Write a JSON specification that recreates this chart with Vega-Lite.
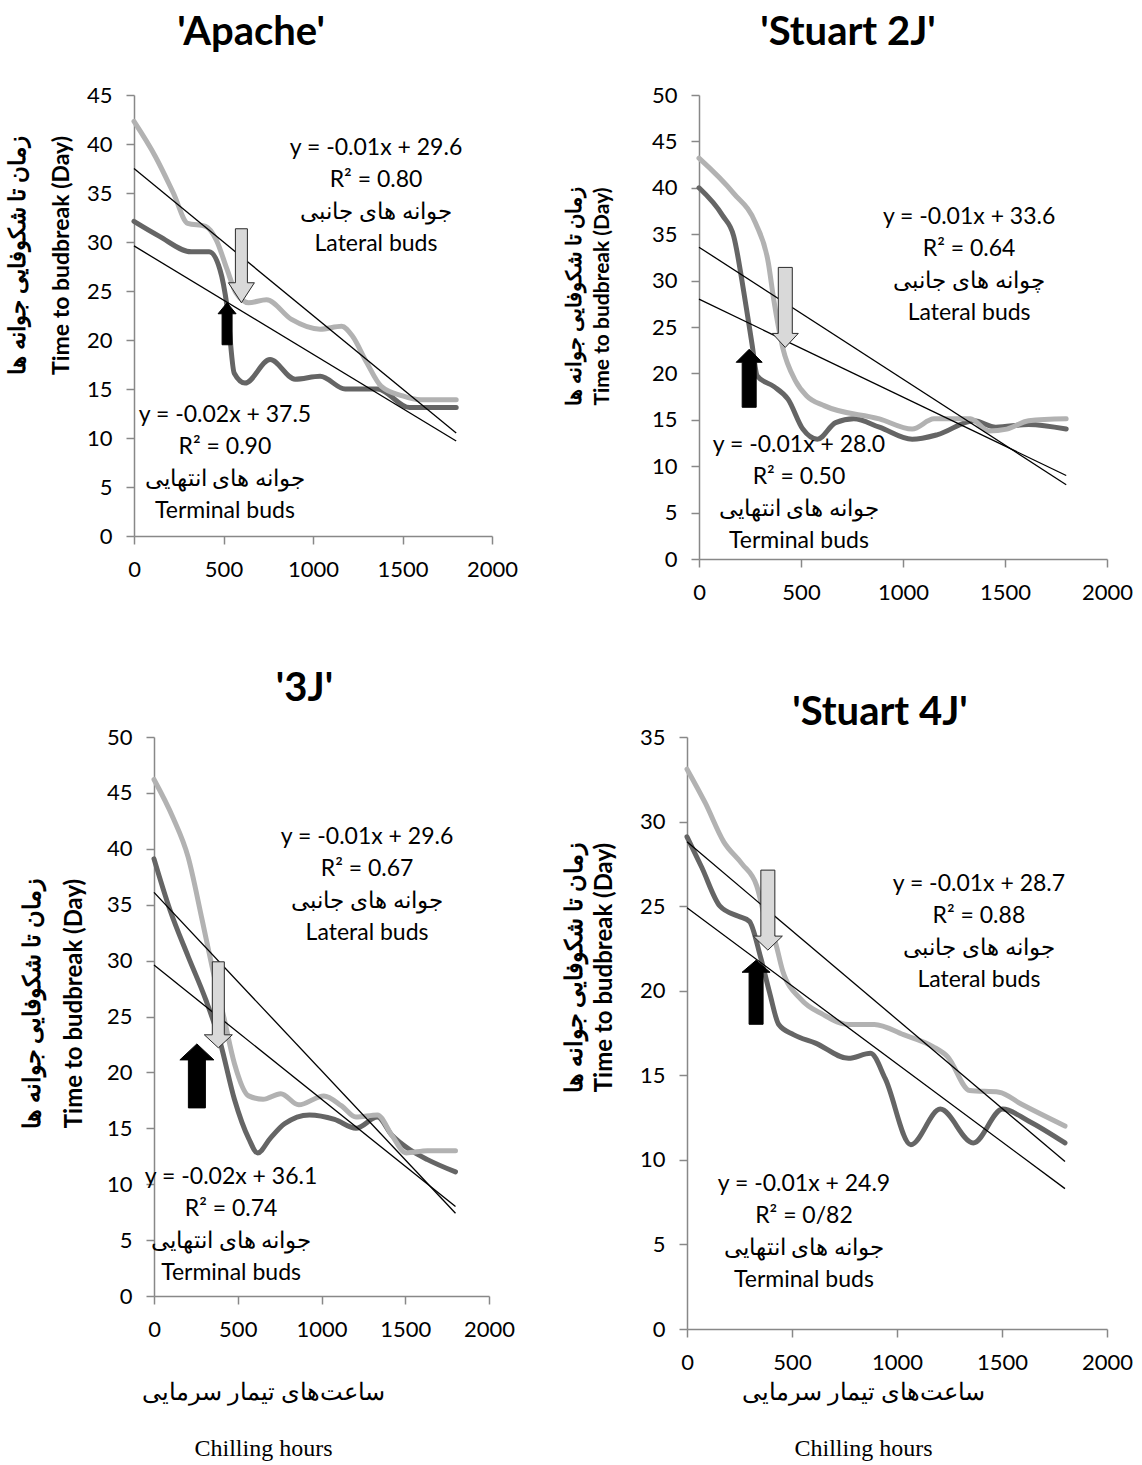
{
  "$schema": "https://vega.github.io/schema/vega-lite/v6.json",
  "padding": {"left": 6, "top": 13, "right": 10, "bottom": 10},
  "background": "white",
  "config": {
    "view": {"stroke": null},
    "font": "Lato",
    "axis": {"grid": false, "domainColor": "#888888", "domainWidth": 1.5, "tickColor": "#888888", "tickWidth": 1.5, "tickSize": 8, "labelFont": "Lato", "labelFontSize": 22, "labelColor": "#000000", "labelPadding": 14, "labelOverlap": false, "labelFlush": false, "titleFont": "Lato", "titleFontWeight": "bold", "titleColor": "#000000", "titleFontSize": 20, "titleAlign": "center"},
    "axisX": {"labelPadding": 15, "format": "d"},
    "title": {"font": "Lato", "fontSize": 40, "fontWeight": "bold", "color": "#000000", "anchor": "middle", "frame": "group", "baseline": "alphabetic"}
  },
  "datasets": {
    "curves": [
      {"panel": "A", "bud": "Terminal", "x": 0, "y": 32.1},
      {"panel": "A", "bud": "Terminal", "x": 140, "y": 30.6},
      {"panel": "A", "bud": "Terminal", "x": 320, "y": 29.0},
      {"panel": "A", "bud": "Terminal", "x": 420, "y": 29.0},
      {"panel": "A", "bud": "Terminal", "x": 480, "y": 27.2},
      {"panel": "A", "bud": "Terminal", "x": 520, "y": 23.4},
      {"panel": "A", "bud": "Terminal", "x": 560, "y": 16.6},
      {"panel": "A", "bud": "Terminal", "x": 620, "y": 15.6},
      {"panel": "A", "bud": "Terminal", "x": 760, "y": 18.0},
      {"panel": "A", "bud": "Terminal", "x": 900, "y": 16.0},
      {"panel": "A", "bud": "Terminal", "x": 1040, "y": 16.3},
      {"panel": "A", "bud": "Terminal", "x": 1180, "y": 15.0},
      {"panel": "A", "bud": "Terminal", "x": 1360, "y": 15.0},
      {"panel": "A", "bud": "Terminal", "x": 1540, "y": 13.1},
      {"panel": "A", "bud": "Terminal", "x": 1800, "y": 13.1},
      {"panel": "A", "bud": "Lateral", "x": 0, "y": 42.3},
      {"panel": "A", "bud": "Lateral", "x": 120, "y": 38.7},
      {"panel": "A", "bud": "Lateral", "x": 220, "y": 35.0},
      {"panel": "A", "bud": "Lateral", "x": 300, "y": 31.9},
      {"panel": "A", "bud": "Lateral", "x": 400, "y": 31.6},
      {"panel": "A", "bud": "Lateral", "x": 460, "y": 30.2},
      {"panel": "A", "bud": "Lateral", "x": 520, "y": 27.2},
      {"panel": "A", "bud": "Lateral", "x": 570, "y": 24.8},
      {"panel": "A", "bud": "Lateral", "x": 640, "y": 23.8},
      {"panel": "A", "bud": "Lateral", "x": 740, "y": 24.1},
      {"panel": "A", "bud": "Lateral", "x": 880, "y": 22.1},
      {"panel": "A", "bud": "Lateral", "x": 1040, "y": 21.1},
      {"panel": "A", "bud": "Lateral", "x": 1160, "y": 21.4},
      {"panel": "A", "bud": "Lateral", "x": 1220, "y": 20.4},
      {"panel": "A", "bud": "Lateral", "x": 1300, "y": 17.7},
      {"panel": "A", "bud": "Lateral", "x": 1380, "y": 15.3},
      {"panel": "A", "bud": "Lateral", "x": 1500, "y": 14.3},
      {"panel": "A", "bud": "Lateral", "x": 1600, "y": 13.9},
      {"panel": "A", "bud": "Lateral", "x": 1800, "y": 13.9},
      {"panel": "B", "bud": "Terminal", "x": 0, "y": 40.0},
      {"panel": "B", "bud": "Terminal", "x": 116, "y": 37.0},
      {"panel": "B", "bud": "Terminal", "x": 170, "y": 34.8},
      {"panel": "B", "bud": "Terminal", "x": 223, "y": 28.3},
      {"panel": "B", "bud": "Terminal", "x": 259, "y": 23.3},
      {"panel": "B", "bud": "Terminal", "x": 286, "y": 19.7},
      {"panel": "B", "bud": "Terminal", "x": 366, "y": 18.6},
      {"panel": "B", "bud": "Terminal", "x": 437, "y": 17.2},
      {"panel": "B", "bud": "Terminal", "x": 509, "y": 14.0},
      {"panel": "B", "bud": "Terminal", "x": 580, "y": 12.9},
      {"panel": "B", "bud": "Terminal", "x": 670, "y": 14.7},
      {"panel": "B", "bud": "Terminal", "x": 759, "y": 15.1},
      {"panel": "B", "bud": "Terminal", "x": 884, "y": 14.2},
      {"panel": "B", "bud": "Terminal", "x": 1045, "y": 12.9},
      {"panel": "B", "bud": "Terminal", "x": 1170, "y": 13.4},
      {"panel": "B", "bud": "Terminal", "x": 1348, "y": 14.9},
      {"panel": "B", "bud": "Terminal", "x": 1455, "y": 14.2},
      {"panel": "B", "bud": "Terminal", "x": 1616, "y": 14.5},
      {"panel": "B", "bud": "Terminal", "x": 1800, "y": 14.0},
      {"panel": "B", "bud": "Lateral", "x": 0, "y": 43.2},
      {"panel": "B", "bud": "Lateral", "x": 170, "y": 39.4},
      {"panel": "B", "bud": "Lateral", "x": 277, "y": 36.2},
      {"panel": "B", "bud": "Lateral", "x": 340, "y": 31.9},
      {"panel": "B", "bud": "Lateral", "x": 366, "y": 28.0},
      {"panel": "B", "bud": "Lateral", "x": 410, "y": 22.8},
      {"panel": "B", "bud": "Lateral", "x": 473, "y": 19.2},
      {"panel": "B", "bud": "Lateral", "x": 527, "y": 17.6},
      {"panel": "B", "bud": "Lateral", "x": 616, "y": 16.5},
      {"panel": "B", "bud": "Lateral", "x": 884, "y": 15.1},
      {"panel": "B", "bud": "Lateral", "x": 1045, "y": 14.0},
      {"panel": "B", "bud": "Lateral", "x": 1152, "y": 15.1},
      {"panel": "B", "bud": "Lateral", "x": 1330, "y": 15.1},
      {"panel": "B", "bud": "Lateral", "x": 1420, "y": 13.8},
      {"panel": "B", "bud": "Lateral", "x": 1509, "y": 14.0},
      {"panel": "B", "bud": "Lateral", "x": 1616, "y": 14.9},
      {"panel": "B", "bud": "Lateral", "x": 1800, "y": 15.1},
      {"panel": "C", "bud": "Terminal", "x": 0, "y": 39.1},
      {"panel": "C", "bud": "Terminal", "x": 96, "y": 34.5},
      {"panel": "C", "bud": "Terminal", "x": 203, "y": 30.4},
      {"panel": "C", "bud": "Terminal", "x": 309, "y": 26.5},
      {"panel": "C", "bud": "Terminal", "x": 395, "y": 22.7},
      {"panel": "C", "bud": "Terminal", "x": 480, "y": 17.6},
      {"panel": "C", "bud": "Terminal", "x": 565, "y": 14.1},
      {"panel": "C", "bud": "Terminal", "x": 619, "y": 12.8},
      {"panel": "C", "bud": "Terminal", "x": 694, "y": 14.1},
      {"panel": "C", "bud": "Terminal", "x": 779, "y": 15.4},
      {"panel": "C", "bud": "Terminal", "x": 928, "y": 16.2},
      {"panel": "C", "bud": "Terminal", "x": 1078, "y": 15.8},
      {"panel": "C", "bud": "Terminal", "x": 1206, "y": 15.0},
      {"panel": "C", "bud": "Terminal", "x": 1334, "y": 16.0},
      {"panel": "C", "bud": "Terminal", "x": 1419, "y": 14.4},
      {"panel": "C", "bud": "Terminal", "x": 1526, "y": 13.1},
      {"panel": "C", "bud": "Terminal", "x": 1633, "y": 12.2},
      {"panel": "C", "bud": "Terminal", "x": 1800, "y": 11.1},
      {"panel": "C", "bud": "Lateral", "x": 0, "y": 46.2},
      {"panel": "C", "bud": "Lateral", "x": 113, "y": 42.8},
      {"panel": "C", "bud": "Lateral", "x": 203, "y": 39.3},
      {"panel": "C", "bud": "Lateral", "x": 288, "y": 33.6},
      {"panel": "C", "bud": "Lateral", "x": 352, "y": 29.1},
      {"panel": "C", "bud": "Lateral", "x": 416, "y": 25.0},
      {"panel": "C", "bud": "Lateral", "x": 480, "y": 20.8},
      {"panel": "C", "bud": "Lateral", "x": 565, "y": 17.9},
      {"panel": "C", "bud": "Lateral", "x": 651, "y": 17.6},
      {"panel": "C", "bud": "Lateral", "x": 757, "y": 18.1},
      {"panel": "C", "bud": "Lateral", "x": 864, "y": 17.1},
      {"panel": "C", "bud": "Lateral", "x": 1014, "y": 17.9},
      {"panel": "C", "bud": "Lateral", "x": 1120, "y": 17.0},
      {"panel": "C", "bud": "Lateral", "x": 1206, "y": 16.0},
      {"panel": "C", "bud": "Lateral", "x": 1334, "y": 16.2},
      {"panel": "C", "bud": "Lateral", "x": 1419, "y": 14.4},
      {"panel": "C", "bud": "Lateral", "x": 1505, "y": 12.8},
      {"panel": "C", "bud": "Lateral", "x": 1633, "y": 13.0},
      {"panel": "C", "bud": "Lateral", "x": 1800, "y": 13.0},
      {"panel": "D", "bud": "Terminal", "x": 0, "y": 29.1},
      {"panel": "D", "bud": "Terminal", "x": 70, "y": 27.3},
      {"panel": "D", "bud": "Terminal", "x": 157, "y": 25.0},
      {"panel": "D", "bud": "Terminal", "x": 245, "y": 24.4},
      {"panel": "D", "bud": "Terminal", "x": 297, "y": 24.1},
      {"panel": "D", "bud": "Terminal", "x": 350, "y": 22.0},
      {"panel": "D", "bud": "Terminal", "x": 393, "y": 19.9},
      {"panel": "D", "bud": "Terminal", "x": 437, "y": 18.0},
      {"panel": "D", "bud": "Terminal", "x": 507, "y": 17.4},
      {"panel": "D", "bud": "Terminal", "x": 612, "y": 16.9},
      {"panel": "D", "bud": "Terminal", "x": 769, "y": 16.0},
      {"panel": "D", "bud": "Terminal", "x": 874, "y": 16.3},
      {"panel": "D", "bud": "Terminal", "x": 944, "y": 14.8},
      {"panel": "D", "bud": "Terminal", "x": 1066, "y": 10.9},
      {"panel": "D", "bud": "Terminal", "x": 1206, "y": 13.0},
      {"panel": "D", "bud": "Terminal", "x": 1363, "y": 11.0},
      {"panel": "D", "bud": "Terminal", "x": 1503, "y": 13.0},
      {"panel": "D", "bud": "Terminal", "x": 1626, "y": 12.3},
      {"panel": "D", "bud": "Terminal", "x": 1800, "y": 11.0},
      {"panel": "D", "bud": "Lateral", "x": 0, "y": 33.1},
      {"panel": "D", "bud": "Lateral", "x": 87, "y": 31.1},
      {"panel": "D", "bud": "Lateral", "x": 175, "y": 28.8},
      {"panel": "D", "bud": "Lateral", "x": 262, "y": 27.5},
      {"panel": "D", "bud": "Lateral", "x": 332, "y": 26.2},
      {"panel": "D", "bud": "Lateral", "x": 376, "y": 24.1},
      {"panel": "D", "bud": "Lateral", "x": 420, "y": 22.9},
      {"panel": "D", "bud": "Lateral", "x": 455, "y": 21.2},
      {"panel": "D", "bud": "Lateral", "x": 542, "y": 19.5},
      {"panel": "D", "bud": "Lateral", "x": 647, "y": 18.6},
      {"panel": "D", "bud": "Lateral", "x": 769, "y": 18.0},
      {"panel": "D", "bud": "Lateral", "x": 892, "y": 18.0},
      {"panel": "D", "bud": "Lateral", "x": 1031, "y": 17.4},
      {"panel": "D", "bud": "Lateral", "x": 1171, "y": 16.7},
      {"panel": "D", "bud": "Lateral", "x": 1241, "y": 16.1},
      {"panel": "D", "bud": "Lateral", "x": 1346, "y": 14.1},
      {"panel": "D", "bud": "Lateral", "x": 1486, "y": 14.0},
      {"panel": "D", "bud": "Lateral", "x": 1591, "y": 13.3},
      {"panel": "D", "bud": "Lateral", "x": 1800, "y": 12.0}
    ],
    "trends": [
      {"panel": "A", "line": "L1", "x": 0, "y": 37.5}, {"panel": "A", "line": "L1", "x": 1800, "y": 10.5},
      {"panel": "A", "line": "L2", "x": 0, "y": 29.6}, {"panel": "A", "line": "L2", "x": 1800, "y": 9.7},
      {"panel": "B", "line": "L1", "x": 0, "y": 33.6}, {"panel": "B", "line": "L1", "x": 1800, "y": 8.0},
      {"panel": "B", "line": "L2", "x": 0, "y": 28.0}, {"panel": "B", "line": "L2", "x": 1800, "y": 9.0},
      {"panel": "C", "line": "L1", "x": 0, "y": 36.1}, {"panel": "C", "line": "L1", "x": 1800, "y": 7.4},
      {"panel": "C", "line": "L2", "x": 0, "y": 29.6}, {"panel": "C", "line": "L2", "x": 1800, "y": 8.0},
      {"panel": "D", "line": "L1", "x": 0, "y": 28.8}, {"panel": "D", "line": "L1", "x": 1800, "y": 9.9},
      {"panel": "D", "line": "L2", "x": 0, "y": 24.9}, {"panel": "D", "line": "L2", "x": 1800, "y": 8.3}
    ],
    "arrows": [
      {"panel": "A", "kind": "down", "x": 600, "y": 23.8}, {"panel": "A", "kind": "up", "x": 520, "y": 23.8},
      {"panel": "B", "kind": "down", "x": 423, "y": 22.8}, {"panel": "B", "kind": "up", "x": 246, "y": 22.6},
      {"panel": "C", "kind": "down", "x": 384, "y": 22.2}, {"panel": "C", "kind": "up", "x": 256, "y": 22.55},
      {"panel": "D", "kind": "down", "x": 385, "y": 22.4}, {"panel": "D", "kind": "up", "x": 329, "y": 21.8}
    ],
    "notes": [
      {"panel": "A", "x": 1352, "y": 39.6, "label": "y = -0.01x + 29.6\nR² = 0.80\nجوانه های جانبی\nLateral buds"},
      {"panel": "A", "x": 508, "y": 12.35, "label": "y = -0.02x + 37.5\nR² = 0.90\nجوانه های انتهایی\nTerminal buds"},
      {"panel": "B", "x": 1324, "y": 36.85, "label": "y = -0.01x + 33.6\nR² = 0.64\nچوانه های جانبی\nLateral buds"},
      {"panel": "B", "x": 490, "y": 12.3, "label": "y = -0.01x + 28.0\nR² = 0.50\nجوانه های انتهایی\nTerminal buds"},
      {"panel": "C", "x": 1272, "y": 41.05, "label": "y = -0.01x + 29.6\nR² = 0.67\nجوانه های جانبی\nLateral buds"},
      {"panel": "C", "x": 460, "y": 10.65, "label": "y = -0.02x + 36.1\nR² = 0.74\nجوانه های انتهایی\nTerminal buds"},
      {"panel": "D", "x": 1390, "y": 26.3, "label": "y = -0.01x + 28.7\nR² = 0.88\nجوانه های جانبی\nLateral buds"},
      {"panel": "D", "x": 557, "y": 8.57, "label": "y = -0.01x + 24.9\nR² = 0/82\nجوانه های انتهایی\nTerminal buds"}
    ]
  },
  "bounds": "flush",
  "columns": 2,
  "spacing": {"row": 178, "column": 195},
  "concat": [
    {
      "width": 358, "height": 441,
      "title": {"text": "'Apache'", "dx": -62, "offset": 31},
      "encoding": {
        "x": {"field": "x", "type": "quantitative", "scale": {"domain": [0, 2000], "nice": false}, "axis": {"values": [0, 500, 1000, 1500, 2000], "title": null}},
        "y": {"field": "y", "type": "quantitative", "scale": {"domain": [0, 45], "nice": false}, "axis": {"values": [0, 5, 10, 15, 20, 25, 30, 35, 40, 45], "title": ["زمان تا شکوفایی جوانه ها", "Time to budbreak (Day)"], "titlePadding": 13, "titleLineHeight": 44, "titleFontSize": 23, "titleY": 160}}
      },
      "layer": [
        {"data": {"name": "curves"}, "transform": [{"filter": "datum.panel === 'A'"}], "mark": {"type": "line", "interpolate": "monotone", "strokeWidth": 5, "strokeCap": "round"}, "encoding": {"color": {"field": "bud", "type": "nominal", "scale": {"domain": ["Terminal", "Lateral"], "range": ["#656565", "#b2b2b2"]}, "legend": null}}},
        {"data": {"name": "trends"}, "transform": [{"filter": "datum.panel === 'A'"}], "mark": {"type": "line", "color": "#000000", "strokeWidth": 1.3}, "encoding": {"detail": {"field": "line"}}},
        {"data": {"name": "arrows"}, "transform": [{"filter": "datum.panel === 'A' && datum.kind === 'down'"}], "mark": {"type": "point", "shape": "M0,0 L13,-20 L6,-20 L6,-74 L-6,-74 L-6,-20 L-13,-20 Z", "size": 4, "filled": true, "fill": "#d9d9d9", "stroke": "#2a2a2a", "strokeWidth": 1, "opacity": 1}},
        {"data": {"name": "arrows"}, "transform": [{"filter": "datum.panel === 'A' && datum.kind === 'up'"}], "mark": {"type": "point", "shape": "M0,0 L9,11 L5,11 L5,42 L-5,42 L-5,11 L-9,11 Z", "size": 4, "filled": true, "fill": "#000000", "stroke": "#000000", "strokeWidth": 1, "opacity": 1}},
        {"data": {"name": "notes"}, "transform": [{"filter": "datum.panel === 'A'"}], "mark": {"type": "text", "lineBreak": "\n", "lineHeight": 32, "fontSize": 23, "font": "Lato", "align": "center", "baseline": "middle", "color": "#000000"}, "encoding": {"text": {"field": "label"}}}
      ]
    },
    {
      "width": 420, "height": 464,
      "title": {"text": "'Stuart 2J'", "dx": -49, "offset": 31},
      "encoding": {
        "x": {"field": "x", "type": "quantitative", "scale": {"domain": [0, 2000], "nice": false, "range": [12, 420]}, "axis": {"values": [0, 500, 1000, 1500, 2000], "title": null}},
        "y": {"field": "y", "type": "quantitative", "scale": {"domain": [0, 50], "nice": false}, "axis": {"offset": -12, "values": [0, 5, 10, 15, 20, 25, 30, 35, 40, 45, 50], "title": ["زمان تا شکوفایی جوانه ها", "Time to budbreak (Day)"], "titlePadding": 39, "titleLineHeight": 28, "titleFontSize": 21, "titleY": 201}}
      },
      "layer": [
        {"data": {"name": "curves"}, "transform": [{"filter": "datum.panel === 'B'"}], "mark": {"type": "line", "interpolate": "monotone", "strokeWidth": 5, "strokeCap": "round"}, "encoding": {"color": {"field": "bud", "type": "nominal", "scale": {"domain": ["Terminal", "Lateral"], "range": ["#656565", "#b2b2b2"]}, "legend": null}}},
        {"data": {"name": "trends"}, "transform": [{"filter": "datum.panel === 'B'"}], "mark": {"type": "line", "color": "#000000", "strokeWidth": 1.3}, "encoding": {"detail": {"field": "line"}}},
        {"data": {"name": "arrows"}, "transform": [{"filter": "datum.panel === 'B' && datum.kind === 'down'"}], "mark": {"type": "point", "shape": "M0,0 L13,-14 L7,-14 L7,-80 L-7,-80 L-7,-14 L-13,-14 Z", "size": 4, "filled": true, "fill": "#d9d9d9", "stroke": "#2a2a2a", "strokeWidth": 1, "opacity": 1}},
        {"data": {"name": "arrows"}, "transform": [{"filter": "datum.panel === 'B' && datum.kind === 'up'"}], "mark": {"type": "point", "shape": "M0,0 L13,13 L7,13 L7,58 L-7,58 L-7,13 L-13,13 Z", "size": 4, "filled": true, "fill": "#000000", "stroke": "#000000", "strokeWidth": 1, "opacity": 1}},
        {"data": {"name": "notes"}, "transform": [{"filter": "datum.panel === 'B'"}], "mark": {"type": "text", "lineBreak": "\n", "lineHeight": 32, "fontSize": 23, "font": "Lato", "align": "center", "baseline": "middle", "color": "#000000"}, "encoding": {"text": {"field": "label"}}}
      ]
    },
    {
      "width": 355, "height": 559,
      "title": {"text": "'3J'", "dx": -7, "offset": 17},
      "encoding": {
        "x": {"field": "x", "type": "quantitative", "scale": {"domain": [0, 2000], "nice": false, "range": [20, 355]}, "axis": {"values": [0, 500, 1000, 1500, 2000], "title": ["ساعت‌های تیمار سرمایی", "Chilling hours"], "titleFont": "Liberation Serif", "titleFontSize": 24, "titleFontWeight": "normal", "titleLineHeight": 56, "titleX": 129, "titleY": 84, "titleAlign": "center", "titleBaseline": "top"}},
        "y": {"field": "y", "type": "quantitative", "scale": {"domain": [0, 50], "nice": false}, "axis": {"offset": -20, "values": [0, 5, 10, 15, 20, 25, 30, 35, 40, 45, 50], "title": ["زمان تا شکوفایی جوانه ها", "Time to budbreak (Day)"], "titlePadding": 20, "titleLineHeight": 42, "titleFontSize": 24, "titleY": 266}}
      },
      "layer": [
        {"data": {"name": "curves"}, "transform": [{"filter": "datum.panel === 'C'"}], "mark": {"type": "line", "interpolate": "monotone", "strokeWidth": 5, "strokeCap": "round"}, "encoding": {"color": {"field": "bud", "type": "nominal", "scale": {"domain": ["Terminal", "Lateral"], "range": ["#656565", "#b2b2b2"]}, "legend": null}}},
        {"data": {"name": "trends"}, "transform": [{"filter": "datum.panel === 'C'"}], "mark": {"type": "line", "color": "#000000", "strokeWidth": 1.3}, "encoding": {"detail": {"field": "line"}}},
        {"data": {"name": "arrows"}, "transform": [{"filter": "datum.panel === 'C' && datum.kind === 'down'"}], "mark": {"type": "point", "shape": "M0,0 L14,-13 L6,-13 L6,-86 L-6,-86 L-6,-13 L-14,-13 Z", "size": 4, "filled": true, "fill": "#d9d9d9", "stroke": "#2a2a2a", "strokeWidth": 1, "opacity": 1}},
        {"data": {"name": "arrows"}, "transform": [{"filter": "datum.panel === 'C' && datum.kind === 'up'"}], "mark": {"type": "point", "shape": "M0,0 L17,16 L8.5,16 L8.5,64 L-8.5,64 L-8.5,16 L-17,16 Z", "size": 4, "filled": true, "fill": "#000000", "stroke": "#000000", "strokeWidth": 1, "opacity": 1}},
        {"data": {"name": "notes"}, "transform": [{"filter": "datum.panel === 'C'"}], "mark": {"type": "text", "lineBreak": "\n", "lineHeight": 32, "fontSize": 23, "font": "Lato", "align": "center", "baseline": "middle", "color": "#000000"}, "encoding": {"text": {"field": "label"}}}
      ]
    },
    {
      "width": 420, "height": 592,
      "title": {"text": "'Stuart 4J'", "dx": -17, "offset": -7},
      "encoding": {
        "x": {"field": "x", "type": "quantitative", "scale": {"domain": [0, 2000], "nice": false}, "axis": {"values": [0, 500, 1000, 1500, 2000], "title": ["ساعت‌های تیمار سرمایی", "Chilling hours"], "titleFont": "Liberation Serif", "titleFontSize": 24, "titleFontWeight": "normal", "titleLineHeight": 56, "titleX": 176, "titleY": 51, "titleAlign": "center", "titleBaseline": "top"}},
        "y": {"field": "y", "type": "quantitative", "scale": {"domain": [0, 35], "nice": false}, "axis": {"values": [0, 5, 10, 15, 20, 25, 30, 35], "title": ["زمان تا شکوفایی جوانه ها", "Time to budbreak (Day)"], "titlePadding": 23, "titleLineHeight": 30, "titleFontSize": 24, "titleY": 230}}
      },
      "layer": [
        {"data": {"name": "curves"}, "transform": [{"filter": "datum.panel === 'D'"}], "mark": {"type": "line", "interpolate": "monotone", "strokeWidth": 5, "strokeCap": "round"}, "encoding": {"color": {"field": "bud", "type": "nominal", "scale": {"domain": ["Terminal", "Lateral"], "range": ["#656565", "#b2b2b2"]}, "legend": null}}},
        {"data": {"name": "trends"}, "transform": [{"filter": "datum.panel === 'D'"}], "mark": {"type": "line", "color": "#000000", "strokeWidth": 1.3}, "encoding": {"detail": {"field": "line"}}},
        {"data": {"name": "arrows"}, "transform": [{"filter": "datum.panel === 'D' && datum.kind === 'down'"}], "mark": {"type": "point", "shape": "M0,0 L14.5,-14 L7,-14 L7,-80 L-7,-80 L-7,-14 L-14.5,-14 Z", "size": 4, "filled": true, "fill": "#d9d9d9", "stroke": "#2a2a2a", "strokeWidth": 1, "opacity": 1}},
        {"data": {"name": "arrows"}, "transform": [{"filter": "datum.panel === 'D' && datum.kind === 'up'"}], "mark": {"type": "point", "shape": "M0,0 L14,12 L7,12 L7,64 L-7,64 L-7,12 L-14,12 Z", "size": 4, "filled": true, "fill": "#000000", "stroke": "#000000", "strokeWidth": 1, "opacity": 1}},
        {"data": {"name": "notes"}, "transform": [{"filter": "datum.panel === 'D'"}], "mark": {"type": "text", "lineBreak": "\n", "lineHeight": 32, "fontSize": 23, "font": "Lato", "align": "center", "baseline": "middle", "color": "#000000"}, "encoding": {"text": {"field": "label"}}}
      ]
    }
  ]
}
